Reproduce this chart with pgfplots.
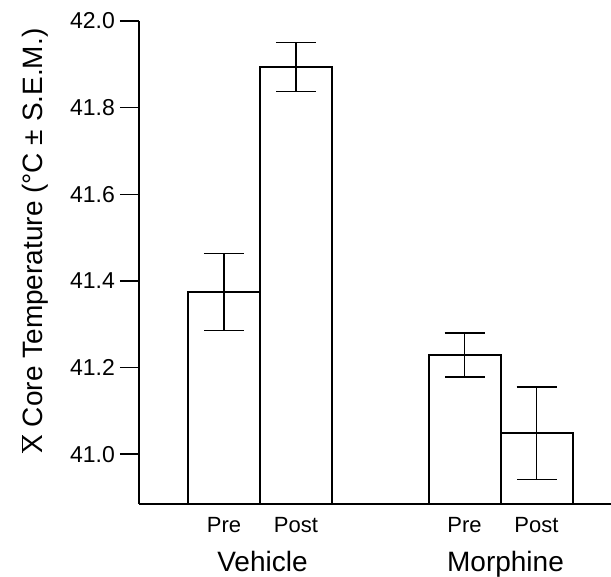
\documentclass[border=0pt]{standalone}
\usepackage{pgfplots}
\pgfplotsset{compat=1.18}
\usepackage{fontspec}
\setmainfont{Liberation Sans}
\begin{document}
\begin{tikzpicture}
\useasboundingbox (-139pt,-73pt) rectangle (472pt,504pt);
\begin{axis}[
  at={(0pt,0pt)}, anchor=south west,
  scale only axis, width=472pt, height=483pt,
  xmin=139, xmax=611, ymin=40.885, ymax=42.0,
  axis x line*=bottom, axis y line*=left,
  axis line style={line width=2.8pt, -},
  clip mode=individual,
  ytick={41.0,41.2,41.4,41.6,41.8,42.0},
  /pgf/number format/fixed,
  /pgf/number format/fixed zerofill,
  /pgf/number format/precision=1,
  /pgf/number format/assume math mode=true,
  yticklabel style={font=\fontsize{23}{25}\selectfont, inner sep=0pt, anchor=east},
  yticklabel shift=5pt,
  tick align=outside,
  major tick length=19pt,
  y tick style={line width=1.5pt, black},
  xtick={224,296,464.5,536.5},
  xticklabels={Pre,Post,Pre,Post},
  x tick style={draw=none},
  xticklabel style={font=\fontsize{22}{24}\selectfont, inner sep=0pt, anchor=north},
  xticklabel shift=-6pt,
  ylabel={$\overline{\mbox{X}}$ Core Temperature (°C ± S.E.M.)},
  every axis y label/.style={at={(rel axis cs:-0.2034,0.5445)}, rotate=90, anchor=base, font=\fontsize{28}{30}\selectfont},
]
\addplot[ybar, bar width=72, fill=white, draw=black, line width=2pt,
  error bars/.cd, y dir=both, y explicit,
  error bar style={line width=1.3pt, black},
  error mark options={rotate=90, mark size=20pt, line width=1.3pt, black}]
coordinates {
  (224,41.374) +- (0,0.089)
  (296,41.894) +- (0,0.057)
  (464.5,41.229) +- (0,0.051)
  (536.5,41.048) +- (0,0.107)
};
\node[anchor=base, yshift=-68pt, font=\fontsize{28}{30}\selectfont] at (axis cs:262.5,40.885) {Vehicle};
\node[anchor=base, yshift=-68pt, font=\fontsize{28}{30}\selectfont] at (axis cs:505.5,40.885) {Morphine};
\end{axis}
\end{tikzpicture}
\end{document}
